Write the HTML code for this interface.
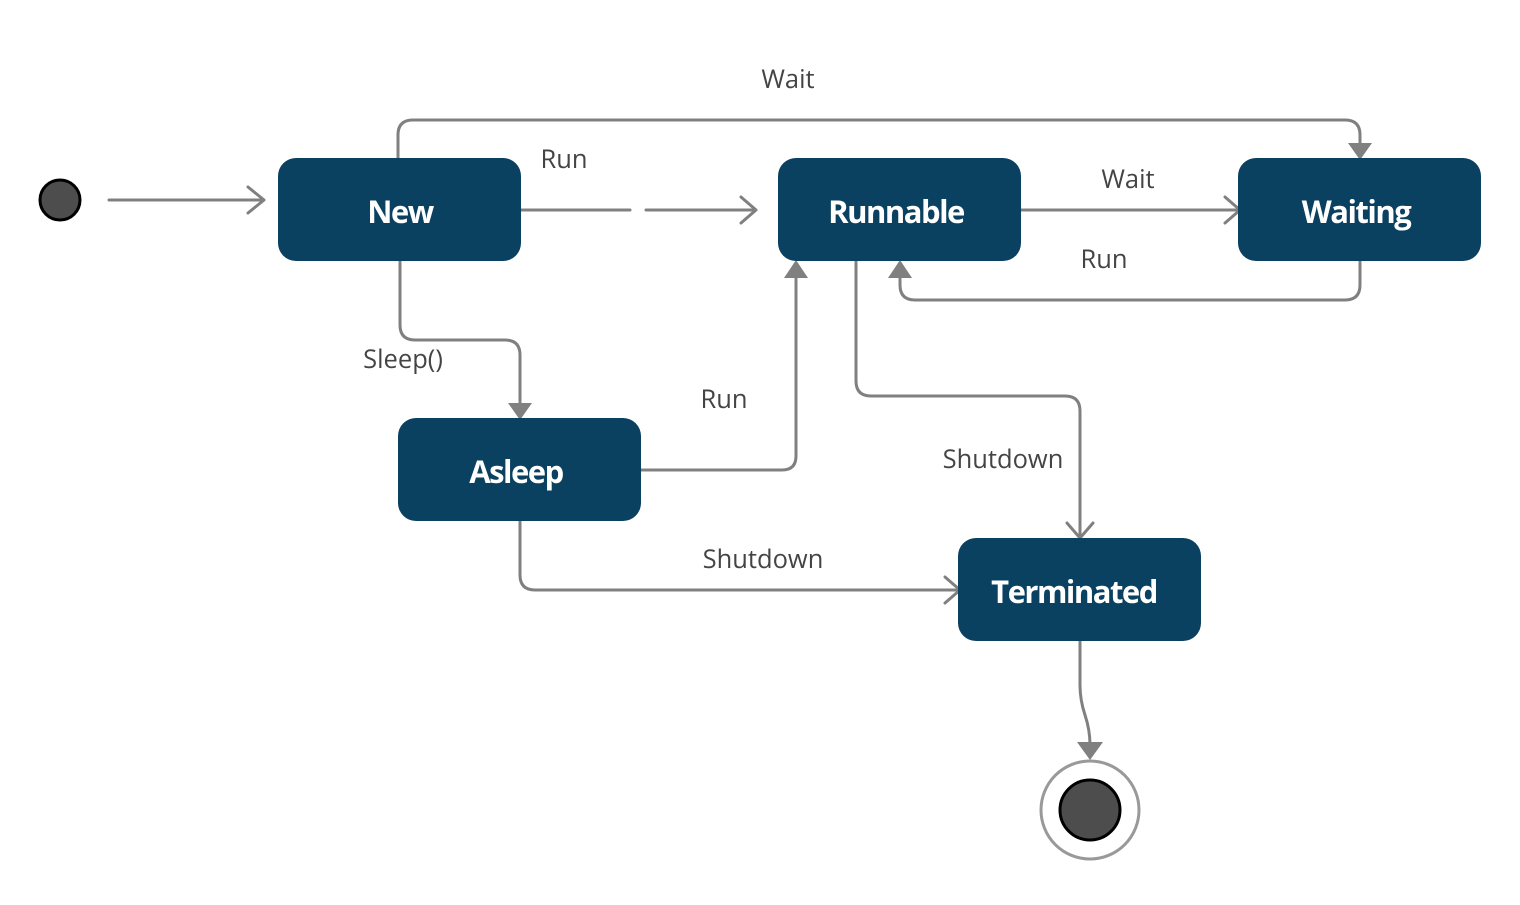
<!DOCTYPE html>
<html><head><style>body{margin:0;background:#fff}</style></head><body>
<svg width="1520" height="900" xmlns="http://www.w3.org/2000/svg" font-family="'Open Sans','DejaVu Sans','Liberation Sans',sans-serif">
<g fill="none" stroke="#808080" stroke-width="3" stroke-linecap="round" stroke-linejoin="round">
<path d="M109 200H264M248 187L264 200L248 213"/>
<path d="M521 210H630M646 210H756M741 197L756 210L741 223"/>
<path d="M398 158V135Q398 120 413 120H1345Q1360 120 1360 135V150"/>
<path d="M1021 210H1240M1225 197L1240 210L1225 223"/>
<path d="M1360 261V285Q1360 300 1345 300H915Q900 300 900 285V270"/>
<path d="M400 261V325Q400 340 415 340H505Q520 340 520 355V410"/>
<path d="M641 470H782Q796 470 796 456V272"/>
<path d="M856 252V381Q856 396 871 396H1065Q1080 396 1080 411V536M1067 523L1080 538L1093 523"/>
<path d="M520 521V575Q520 590 535 590H960M945 577L960 590L945 603"/>
<path d="M1080 641V685Q1080 700 1085 715Q1090 730 1090 745"/>
</g>
<g fill="#808080">
<polygon points="1348,143 1372,143 1360,160"/>
<polygon points="888,278 912,278 900,260"/>
<polygon points="508,403 532,403 520,420"/>
<polygon points="784,278 808,278 796,260"/>
<polygon points="1077,742 1103,742 1090,760"/>
</g>
<g fill="#0a4060">
<rect x="278" y="158" width="243" height="103" rx="18"/>
<rect x="778" y="158" width="243" height="103" rx="18"/>
<rect x="1238" y="158" width="243" height="103" rx="18"/>
<rect x="398" y="418" width="243" height="103" rx="18"/>
<rect x="958" y="538" width="243" height="103" rx="18"/>
</g>
<g fill="#fff" font-size="31" font-weight="bold" text-anchor="middle" letter-spacing="-1.5">
<text x="400" y="223">New</text>
<text x="896" y="223">Runnable</text>
<text x="1356" y="223">Waiting</text>
<text x="516" y="483">Asleep</text>
<text x="1074" y="603">Terminated</text>
</g>
<g fill="#444" font-size="25.5" text-anchor="middle">
<text x="788" y="88">Wait</text>
<text x="564" y="168">Run</text>
<text x="1128" y="188">Wait</text>
<text x="1104" y="268">Run</text>
<text x="403" y="368">Sleep()</text>
<text x="724" y="408">Run</text>
<text x="1003" y="468">Shutdown</text>
<text x="763" y="568">Shutdown</text>
</g>
<circle cx="60" cy="200" r="20" fill="#4d4d4d" stroke="#000" stroke-width="3"/>
<circle cx="1090" cy="810" r="49" fill="#fff" stroke="#999" stroke-width="3"/>
<circle cx="1090" cy="810" r="30" fill="#4d4d4d" stroke="#000" stroke-width="3"/>
</svg>
</body></html>
